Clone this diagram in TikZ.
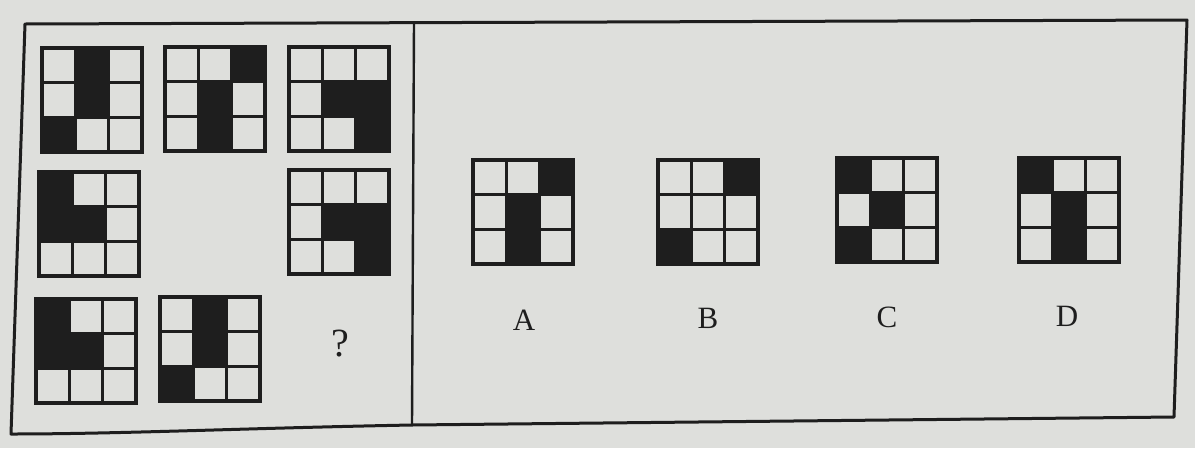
\documentclass[tikz,border=0pt]{standalone}
\usepackage{fontspec}
\setmainfont{Liberation Serif}
\usetikzlibrary{positioning}

\definecolor{paper}{RGB}{222,223,220}
\definecolor{ink}{RGB}{30,30,30}

\tikzset{
  pics/cellgrid/.style={code={
    \foreach \r/\c in {#1}
      \fill[ink] ({(\c-1)*33.3},{(\r-1)*34.7}) rectangle +(33.3,34.7);
    \foreach \k in {1,2} {
      \draw[ink,line width=2.8pt] ({\k*33.3},0) -- +(0,104);
      \draw[ink,line width=2.8pt] (0,{\k*34.7}) -- +(100,0);
    }
    \draw[ink,line width=3.4pt] (0,0) rectangle (100,104);
  }},
  letter/.style={font=\fontsize{31}{31}\selectfont,text=ink}
}

\begin{document}
\begin{tikzpicture}[x=1pt,y=-1pt]
\fill[paper] (0,0) rectangle (1195,448);
\useasboundingbox (0,0) rectangle (1195,448);

% frame and divider
\draw[ink,line width=3pt,line join=round]
  (25,24) -- (1187,20) -- (1174,417) -- (412,425)
  .. controls (250,428) and (120,434) .. (11,434) -- cycle;
\draw[ink,line width=2.4pt] (414,22) -- (412,425);

% left part
\pic at (42,48)  {cellgrid={1/2,2/2,3/1}};
\pic at (165,47) {cellgrid={1/3,2/2,3/2}};
\pic at (289,47) {cellgrid={2/2,2/3,3/3}};
\pic at (39,172) {cellgrid={1/1,2/1,2/2}};
\pic at (289,170) {cellgrid={2/2,2/3,3/3}};
\pic at (36,299) {cellgrid={1/1,2/1,2/2}};
\pic at (160,297) {cellgrid={1/2,2/2,3/1}};
\node[letter,font=\fontsize{40}{40}\selectfont] (q) at (340,344) {?};

% options
\pic at (473,160) {cellgrid={1/3,2/2,3/2}};
\pic at (658,160) {cellgrid={1/3,3/1}};
\pic at (837,158) {cellgrid={1/1,2/2,3/1}};
\pic at (1019,158) {cellgrid={1/1,2/2,3/2}};
\node[letter] (a) at (524,320) {A};
\node[letter] (b) at (708,318) {B};
\node[letter] (c) at (887,317) {C};
\node[letter] (d) at (1067,316) {D};
\end{tikzpicture}
\end{document}
